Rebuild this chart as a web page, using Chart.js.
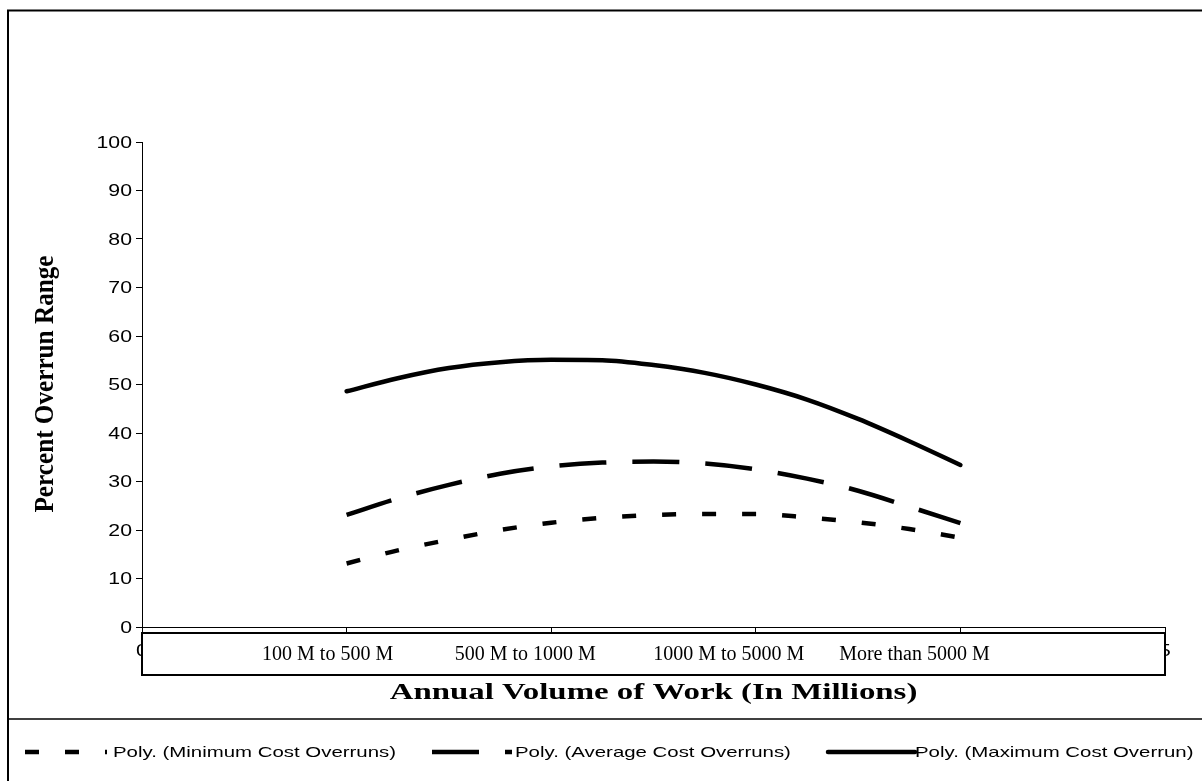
<!DOCTYPE html>
<html>
<head>
<meta charset="utf-8">
<title>Percent Overrun Range by Annual Volume of Work</title>
<script src="https://cdn.jsdelivr.net/npm/chart.js@4/dist/chart.umd.min.js"></script>
<style>
  html, body { margin: 0; padding: 0; background: #ffffff; }
  #wrap { width: 1202px; height: 781px; position: relative; }
</style>
</head>
<body>
<div id="wrap"><canvas id="overrunChart" width="1202" height="781"></canvas></div>
<script>
// Volume bands written along the bottom of the plot (they sit at positions 1..4 of a 0..5 axis)
const volumeBands = ['100 M to 500 M', '500 M to 1000 M', '1000 M to 5000 M', 'More than 5000 M'];

// x positions at which the polynomial trend curves are sampled
const trendX = [1.0, 1.25, 1.5, 1.75, 2.0, 2.25, 2.5, 2.75, 3.0, 3.25, 3.5, 3.75, 4.0];

// Trend curve values (percent overrun)
const minOverrun = [13.1, 15.8, 18.0, 20.0, 21.5, 22.5, 23.1, 23.3, 23.3, 22.6, 21.6, 20.2, 18.4];
const avgOverrun = [23.1, 26.5, 29.3, 31.6, 33.1, 33.9, 34.1, 33.7, 32.5, 30.6, 28.1, 24.8, 21.4];
const maxOverrun = [48.6, 51.3, 53.4, 54.6, 55.1, 55.0, 54.0, 52.4, 50.0, 46.9, 42.9, 38.3, 33.4];

// Axis ticks
const yTickValues = [0, 10, 20, 30, 40, 50, 60, 70, 80, 90, 100];
const xTickValues = [0, 1, 2, 3, 4, 5];
const xTickLabels = ['0', '', '', '', '', '5'];

const seriesNames = ['Poly. (Minimum Cost Overruns)', 'Poly. (Average Cost Overruns)', 'Poly. (Maximum Cost Overrun)'];
const yTitle = 'Percent Overrun Range';
const xTitle = 'Annual Volume of Work (In Millions)';

const toPoints = vals => trendX.map((x, i) => ({ x: x, y: vals[i] }));

// Text drawn with a horizontal stretch factor
function stretchText(ctx, text, x, y, sx, align) {
  ctx.save();
  ctx.translate(x, y);
  ctx.scale(sx, 1);
  ctx.textAlign = align;
  ctx.fillText(text, 0, 0);
  ctx.restore();
}

const decorations = {
  id: 'decorations',
  afterDraw(chart) {
    const ctx = chart.ctx;
    const area = chart.chartArea;
    const xs = chart.scales.x;
    const ys = chart.scales.y;
    ctx.save();
    ctx.fillStyle = '#000';
    ctx.strokeStyle = '#000';

    // outer frame (left and top) and the rule above the legend
    ctx.lineWidth = 2;
    ctx.beginPath();
    ctx.moveTo(8, 781); ctx.lineTo(8, 10.5); ctx.lineTo(1202, 10.5);
    ctx.stroke();
    ctx.lineWidth = 1.5;
    ctx.beginPath();
    ctx.moveTo(8, 719); ctx.lineTo(1202, 719);
    ctx.stroke();

    // y tick labels
    ctx.font = '17px "Liberation Sans", Arial, sans-serif';
    ctx.textBaseline = 'middle';
    yTickValues.forEach(v => {
      stretchText(ctx, String(v), area.left - 10, ys.getPixelForValue(v) + 1, 1.25, 'right');
    });
    // x tick labels
    ctx.font = '17px "Liberation Sans", Arial, sans-serif';
    xTickValues.forEach((v, i) => {
      if (xTickLabels[i]) stretchText(ctx, xTickLabels[i], xs.getPixelForValue(v), area.bottom + 24, 1.25, 'center');
    });

    // band box over the x axis
    const boxTop = area.bottom + 6;
    const boxH = 42;
    ctx.fillStyle = '#fff';
    ctx.fillRect(area.left, boxTop, area.right - area.left, boxH);
    ctx.lineWidth = 2;
    ctx.strokeRect(area.left, boxTop, area.right - area.left, boxH);
    ctx.fillStyle = '#000';
    ctx.font = '20px "Liberation Serif", "Times New Roman", serif';
    ctx.textBaseline = 'middle';
    const bandShift = [19, 26, 27, 46];
    volumeBands.forEach((label, i) => {
      ctx.textAlign = 'center';
      ctx.fillText(label, xs.getPixelForValue(i + 1) - bandShift[i], boxTop + 22);
    });

    // axis titles
    ctx.font = 'bold 24px "Liberation Serif", "Times New Roman", serif';
    stretchText(ctx, xTitle, (area.left + area.right) / 2, 693, 1.37, 'center');
    ctx.save();
    ctx.translate(46, 384);
    ctx.rotate(-Math.PI / 2);
    ctx.scale(1.05, 1.1);
    ctx.textAlign = 'center';
    ctx.fillText(yTitle, 0, 0);
    ctx.restore();

    // legend row
    const legendY = 752;
    const sampleX = [25, 432, 828];
    const sampleLen = [82, 80, 87];
    const textX = [113, 515, 915];
    ctx.font = '15px "Liberation Sans", Arial, sans-serif';
    chart.data.datasets.forEach((ds, i) => {
      ctx.save();
      ctx.lineWidth = ds.borderWidth;
      ctx.setLineDash(ds.borderDash || []);
      ctx.lineCap = ds.borderDash && ds.borderDash.length ? 'butt' : 'round';
      ctx.beginPath();
      ctx.moveTo(sampleX[i], legendY);
      ctx.lineTo(sampleX[i] + sampleLen[i], legendY);
      ctx.stroke();
      ctx.restore();
      stretchText(ctx, ds.label, textX[i], legendY + 1, 1.36, 'left');
    });
    ctx.restore();
  }
};

const lineStyle = { borderColor: '#000', backgroundColor: '#000', borderWidth: 4.5, pointRadius: 0, fill: false, cubicInterpolationMode: 'monotone', borderCapStyle: 'butt' };

new Chart(document.getElementById('overrunChart'), {
  type: 'line',
  data: {
    datasets: [
      Object.assign({ label: seriesNames[0], data: toPoints(minOverrun), borderDash: [14, 26] }, lineStyle),
      Object.assign({ label: seriesNames[1], data: toPoints(avgOverrun), borderDash: [47, 26] }, lineStyle),
      Object.assign({ label: seriesNames[2], data: toPoints(maxOverrun), borderDash: [] }, lineStyle, { borderCapStyle: 'round' })
    ]
  },
  options: {
    responsive: false,
    animation: false,
    devicePixelRatio: 1,
    layout: { padding: { left: 0, top: 142, right: 37, bottom: 106 } },
    plugins: { legend: { display: false }, tooltip: { enabled: false } },
    scales: {
      x: {
        type: 'linear', min: 0, max: 5,
        afterBuildTicks: s => { s.ticks = xTickValues.map(v => ({ value: v })); },
        afterFit: s => { s.height = 48; },
        ticks: { display: false },
        grid: { drawOnChartArea: false, drawTicks: true, tickLength: 6, color: '#000', lineWidth: 1 },
        border: { display: true, color: '#000', width: 1 }
      },
      y: {
        type: 'linear', min: 0, max: 100,
        afterBuildTicks: s => { s.ticks = yTickValues.map(v => ({ value: v })); },
        afterFit: s => { s.width = 142; },
        ticks: { display: false },
        grid: { drawOnChartArea: false, drawTicks: true, tickLength: 6, color: '#000', lineWidth: 1 },
        border: { display: true, color: '#000', width: 1 }
      }
    }
  },
  plugins: [decorations]
});
</script>
</body>
</html>
